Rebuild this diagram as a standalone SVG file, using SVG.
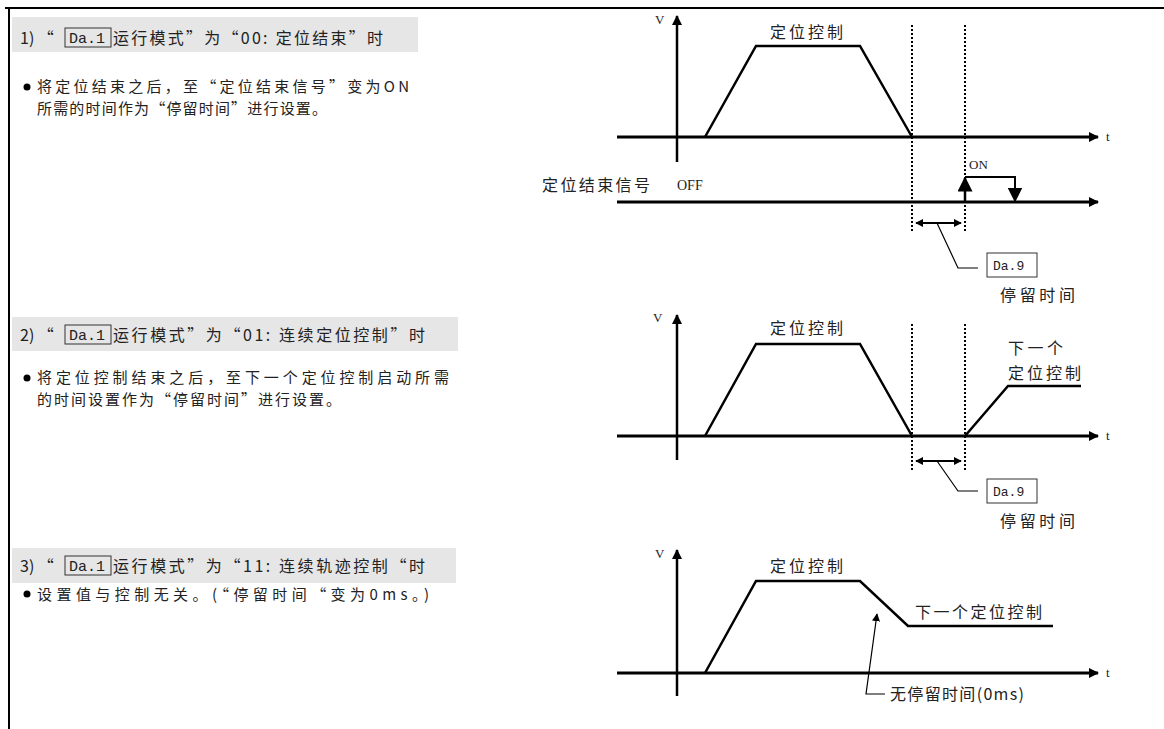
<svg xmlns="http://www.w3.org/2000/svg" width="1164" height="729" viewBox="0 0 1164 729">
<defs>
<style>
.cjk{font-family:"Noto Sans CJK SC","Liberation Sans",sans-serif;font-size:16px;fill:#222}
.body{font-family:"Noto Sans CJK SC","Liberation Sans",sans-serif;font-size:15px;fill:#222}
.mono{font-family:"Liberation Mono","Noto Sans CJK SC",monospace;font-size:15px;fill:#222}
.small{font-family:"Liberation Serif","Noto Sans CJK SC",serif;font-size:13px;fill:#222}
.band{fill:#e6e6e6}
.ax{stroke:#000;stroke-width:3;fill:none}
.vax{stroke:#000;stroke-width:2.5;fill:none}
.curve{stroke:#000;stroke-width:2.5;fill:none;stroke-linejoin:miter}
.dot{stroke:#000;stroke-width:2;stroke-dasharray:2 2;fill:none}
.thin{stroke:#000;stroke-width:1.2;fill:none}
.box{stroke:#333;stroke-width:1;fill:none}
</style>
<marker id="ah" viewBox="0 0 10 10" refX="9" refY="5" markerWidth="10" markerHeight="10" markerUnits="userSpaceOnUse" orient="auto"><path d="M0,0 L10,5 L0,10 z" fill="#000"/></marker>
<marker id="ahs" viewBox="0 0 10 10" refX="9" refY="5" markerWidth="8" markerHeight="8" markerUnits="userSpaceOnUse" orient="auto-start-reverse"><path d="M0,0 L10,5 L0,10 z" fill="#000"/></marker>
<marker id="ahb" viewBox="0 0 10 10" refX="9" refY="5" markerWidth="15" markerHeight="15" markerUnits="userSpaceOnUse" orient="auto"><path d="M0,0 L10,5 L0,10 z" fill="#000"/></marker>
</defs>

<g id="frame">
<line x1="5" y1="8" x2="1164" y2="8" stroke="#000" stroke-width="2"/>
<line x1="9" y1="8" x2="9" y2="729" stroke="#000" stroke-width="2"/>
</g>

<g id="section1">
<rect class="band" x="12" y="17" width="406" height="35"/>
<text class="cjk" x="20" y="44">1) “</text>
<rect class="box" x="65" y="28" width="46" height="19"/>
<text class="mono" x="69" y="43">Da.1</text>
<text class="cjk" x="113" y="44" textLength="270" lengthAdjust="spacing">运行模式”为“00: 定位结束”时</text>
<circle cx="27" cy="87" r="3.5" fill="#000"/>
<text class="body" x="37" y="92" textLength="372" lengthAdjust="spacing">将定位结束之后，至“定位结束信号”变为ON</text>
<text class="body" x="37" y="114" textLength="290" lengthAdjust="spacing">所需的时间作为“停留时间”进行设置。</text>
</g>

<g id="section2">
<rect class="band" x="12" y="317" width="446" height="34"/>
<text class="cjk" x="20" y="341">2) “</text>
<rect class="box" x="65" y="325" width="46" height="19"/>
<text class="mono" x="69" y="340">Da.1</text>
<text class="cjk" x="113" y="341" textLength="312" lengthAdjust="spacing">运行模式”为“01: 连续定位控制”时</text>
<circle cx="27" cy="378" r="3.5" fill="#000"/>
<text class="body" x="37" y="383" textLength="412" lengthAdjust="spacing">将定位控制结束之后，至下一个定位控制启动所需</text>
<text class="body" x="37" y="405" textLength="304" lengthAdjust="spacing">的时间设置作为“停留时间”进行设置。</text>
</g>

<g id="section3">
<rect class="band" x="12" y="548" width="444" height="35"/>
<text class="cjk" x="20" y="572">3) “</text>
<rect class="box" x="65" y="556" width="46" height="19"/>
<text class="mono" x="69" y="571">Da.1</text>
<text class="cjk" x="113" y="572" textLength="312" lengthAdjust="spacing">运行模式”为“11: 连续轨迹控制“时</text>
<circle cx="27" cy="594" r="3.5" fill="#000"/>
<text class="body" x="37" y="600" textLength="392" lengthAdjust="spacing">设置值与控制无关。(“停留时间“变为0ms。)</text>
</g>

<g id="graph1">
<text class="small" x="655" y="24">V</text>
<text class="small" x="1106" y="141">t</text>
<text class="cjk" x="770" y="38" textLength="73" lengthAdjust="spacing">定位控制</text>
<text class="cjk" x="542" y="191" textLength="108" lengthAdjust="spacing">定位结束信号</text>
<text class="small" x="677" y="190" style="font-size:14px">OFF</text>
<text class="small" x="969" y="169">ON</text>
<rect class="box" x="987" y="253" width="50" height="24"/>
<text class="mono" x="993" y="270" style="font-size:13px">Da.9</text>
<text class="cjk" x="1000" y="301" textLength="75" lengthAdjust="spacing">停留时间</text>
</g>

<g id="graph2">
<text class="small" x="653" y="322">V</text>
<text class="small" x="1106" y="440">t</text>
<text class="cjk" x="770" y="334" textLength="73" lengthAdjust="spacing">定位控制</text>
<text class="cjk" x="1008" y="354" textLength="55" lengthAdjust="spacing">下一个</text>
<text class="cjk" x="1008" y="379" textLength="73" lengthAdjust="spacing">定位控制</text>
<rect class="box" x="987" y="479" width="50" height="24"/>
<text class="mono" x="993" y="496" style="font-size:13px">Da.9</text>
<text class="cjk" x="1000" y="527" textLength="75" lengthAdjust="spacing">停留时间</text>
</g>

<g id="graph3">
<text class="small" x="655" y="558">V</text>
<text class="small" x="1106" y="677">t</text>
<text class="cjk" x="770" y="572" textLength="73" lengthAdjust="spacing">定位控制</text>
<text class="cjk" x="915" y="618" textLength="127" lengthAdjust="spacing">下一个定位控制</text>
<text class="cjk" x="890" y="700" textLength="134" lengthAdjust="spacing">无停留时间(0ms)</text>
</g>

<g id="connectors">
<line class="vax" x1="677" y1="162" x2="677" y2="16" marker-end="url(#ah)"/>
<line class="ax" x1="617" y1="137" x2="1098" y2="137" marker-end="url(#ah)"/>
<polyline class="curve" points="705,137 756,46 860,46 912,137"/>
<line class="dot" x1="912" y1="25" x2="912" y2="232"/>
<line class="dot" x1="965" y1="25" x2="965" y2="232"/>
<line class="ax" x1="617" y1="202" x2="1098" y2="202" marker-end="url(#ah)"/>
<line x1="965" y1="202" x2="965" y2="178" stroke="#000" stroke-width="2.5" marker-end="url(#ahb)"/>
<polyline points="965,177 1015,177 1015,201" stroke="#000" stroke-width="2" fill="none" marker-end="url(#ahb)"/>
<line x1="916" y1="223" x2="961" y2="223" stroke="#000" stroke-width="2" marker-start="url(#ahs)" marker-end="url(#ahs)"/>
<polyline class="thin" points="937,223 958,268 978,268"/>
<line class="vax" x1="677" y1="460" x2="677" y2="315" marker-end="url(#ah)"/>
<line class="ax" x1="617" y1="436" x2="1098" y2="436" marker-end="url(#ah)"/>
<polyline class="curve" points="705,436 756,344 860,344 912,436"/>
<polyline class="curve" points="965,436 1008,386 1081,386"/>
<line class="dot" x1="912" y1="324" x2="912" y2="470"/>
<line class="dot" x1="965" y1="324" x2="965" y2="470"/>
<line x1="916" y1="461" x2="961" y2="461" stroke="#000" stroke-width="2" marker-start="url(#ahs)" marker-end="url(#ahs)"/>
<polyline class="thin" points="937,461 958,491 978,491"/>
<line class="vax" x1="677" y1="696" x2="677" y2="550" marker-end="url(#ah)"/>
<line class="ax" x1="617" y1="673" x2="1098" y2="673" marker-end="url(#ah)"/>
<polyline class="curve" points="705,673 756,581 860,581 908,626 1053,626"/>
<polyline class="thin" points="885,694 866,694 877,614" marker-end="url(#ahs)"/>
</g>
</svg>
